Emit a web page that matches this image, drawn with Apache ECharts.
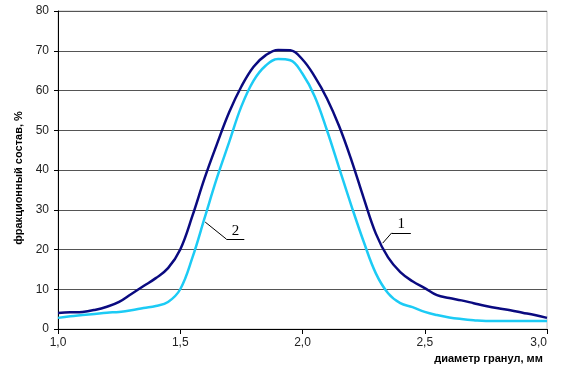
<!DOCTYPE html>
<html>
<head>
<meta charset="utf-8">
<script src="https://cdn.jsdelivr.net/npm/echarts@6/dist/echarts.min.js"></script>
<style>
  html, body { margin: 0; padding: 0; background: #fff; }
  #chart { width: 573px; height: 371px; }
</style>
</head>
<body>
<div id="chart"></div>
<script>
// диаметр гранул, мм
const diameters = [1.00, 1.05, 1.10, 1.15, 1.20, 1.25, 1.30, 1.35, 1.40, 1.45,
  1.50, 1.55, 1.60, 1.65, 1.70, 1.75, 1.80, 1.85, 1.90, 1.95,
  2.00, 2.05, 2.10, 2.15, 2.20, 2.25, 2.30, 2.35, 2.40, 2.45,
  2.50, 2.55, 2.60, 2.65, 2.70, 2.75, 2.80, 2.85, 2.90, 2.95, 3.00];

// кривая 1 (тёмно-синяя)
const curve1 = [4.0, 4.2, 4.3, 4.8, 5.6, 6.8, 8.8, 10.8, 12.8, 15.3,
  20.0, 28.5, 38.0, 46.5, 54.5, 61.0, 66.0, 68.9, 70.2, 70.1,
  67.8, 63.5, 58.0, 51.0, 42.5, 33.0, 24.0, 18.0, 14.3, 12.0,
  10.3, 8.5, 7.8, 7.2, 6.5, 5.8, 5.2, 4.7, 4.1, 3.5, 2.8];

// кривая 2 (голубая)
const curve2 = [2.8, 3.2, 3.5, 3.8, 4.1, 4.3, 4.7, 5.3, 5.8, 6.8,
  10.0, 18.0, 28.0, 38.0, 47.0, 56.0, 62.5, 66.3, 67.9, 67.6,
  64.2, 58.5, 50.0, 40.5, 31.0, 22.0, 14.0, 9.0, 6.5, 5.5,
  4.3, 3.5, 2.9, 2.5, 2.2, 2.0, 2.0, 2.0, 2.0, 2.0, 2.0];

// выноски с номерами кривых (в координатах данных)
const leader1 = [[2.328, 21.6], [2.365, 24.2], [2.443, 24.2]];
const leader2 = [[1.602, 26.9], [1.689, 22.6], [1.762, 22.6]];

const xTicks = [1.0, 1.5, 2.0, 2.5, 3.0];
const yTicks = [0, 10, 20, 30, 40, 50, 60, 70, 80];

function pairs(xs, ys) {
  return xs.map((x, i) => [x, ys[i]]);
}

// выноска: наклонный отрезок + полка с подписью над ней
function leaderLines(pts, text) {
  return {
    silent: true,
    symbol: 'none',
    lineStyle: { color: '#000', width: 1, type: 'solid' },
    label: { show: false },
    data: [
      [{ coord: pts[0] }, { coord: pts[1] }],
      [
        {
          coord: pts[1],
          label: {
            show: true, position: 'insideMiddleTop', formatter: text, distance: 1,
            color: '#000', fontFamily: 'Liberation Serif', fontSize: 15
          }
        },
        { coord: pts[2] }
      ]
    ]
  };
}

const chart = echarts.init(document.getElementById('chart'), null, { renderer: 'canvas' });

const option = {
  animation: false,
  backgroundColor: '#fff',
  grid: {
    left: 58, right: 26, top: 11, bottom: 42,
    show: true, borderColor: '#c0c0c0', borderWidth: 1
  },
  xAxis: {
    type: 'value',
    min: xTicks[0],
    max: xTicks[xTicks.length - 1],
    interval: 0.5,
    name: 'диаметр гранул, мм',
    nameLocation: 'middle',
    nameGap: 22,
    nameTextStyle: {
      fontFamily: 'Liberation Sans', fontWeight: 'bold', fontSize: 11,
      color: '#000', padding: [0, 0, 0, 372]
    },
    axisLine: { show: true, onZero: false, lineStyle: { color: '#000', width: 1 } },
    axisTick: { show: true, length: 5, lineStyle: { color: '#000' } },
    axisLabel: {
      margin: 8, fontFamily: 'Liberation Sans', fontSize: 12, color: '#222',
      alignMaxLabel: 'right',
      formatter: v => v.toFixed(1).replace('.', ',')
    },
    splitLine: { show: false }
  },
  yAxis: {
    type: 'value',
    min: yTicks[0],
    max: yTicks[yTicks.length - 1],
    interval: 10,
    name: 'фракционный состав, %',
    nameLocation: 'middle',
    nameGap: 27,
    nameTextStyle: {
      fontFamily: 'Liberation Sans', fontWeight: 'bold', fontSize: 11,
      color: '#000', padding: [0, 16, 0, 0]
    },
    axisLine: { show: true, lineStyle: { color: '#000', width: 1 } },
    axisTick: { show: true, length: 4, lineStyle: { color: '#000' } },
    axisLabel: { margin: 9, fontFamily: 'Liberation Sans', fontSize: 12, color: '#222' },
    splitLine: { show: true, lineStyle: { color: '#555', width: 1 } }
  },
  series: [
    {
      name: '1',
      type: 'line',
      smooth: 0.4,
      symbol: 'none',
      data: pairs(diameters, curve1),
      lineStyle: { color: '#0a0a80', width: 2.5 },
      z: 3,
      markLine: leaderLines(leader1, '1')
    },
    {
      name: '2',
      type: 'line',
      smooth: 0.4,
      symbol: 'none',
      data: pairs(diameters, curve2),
      lineStyle: { color: '#1ccbf5', width: 2.5 },
      z: 2,
      markLine: leaderLines(leader2, '2')
    }
  ]
};

chart.setOption(option);
</script>
</body>
</html>
